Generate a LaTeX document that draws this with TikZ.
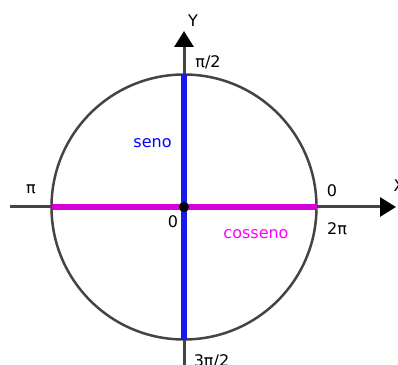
\documentclass[tikz,border=0pt]{standalone}
\usepackage{fontspec}
\setmainfont{DejaVu Sans}
\usepackage{xcolor}
\usetikzlibrary{arrows.meta}
\definecolor{axisgray}{RGB}{68,68,68}
\definecolor{senoblue}{RGB}{25,25,235}
\definecolor{cosmagenta}{RGB}{215,0,215}
\definecolor{senotext}{RGB}{0,0,255}
\definecolor{costext}{RGB}{255,0,255}

\begin{document}
\begin{tikzpicture}[x=1pt, y=1pt,
    lbl/.style={anchor=base, inner sep=0pt, font=\fontsize{16}{19}\selectfont},
    axis/.style={axisgray, line width=3pt, -{Triangle[length=16pt,width=19pt,color=black]}}]
    \useasboundingbox (0,0) rectangle (398,364);

    % points
    \coordinate (O) at (184,157);
    \coordinate (xl) at (10,157);
    \coordinate (xr) at (396,157);
    \coordinate (yt) at (184,333);
    \coordinate (yb) at (184,-4);
    \coordinate (top) at (184,289.5);
    \coordinate (bot) at (184,24.5);
    \coordinate (left) at (51.5,157);
    \coordinate (right) at (316.5,157);

    % axes
    \draw[axis] (xl) -- (xr);
    \draw[axis] (yb) -- (yt);

    % unit circle
    \draw[axisgray, line width=2.5pt] (O) circle (132.5);

    % cosseno and seno
    \draw[cosmagenta, line width=6.5pt] (left) -- (right);
    \draw[senoblue, line width=6.5pt] (bot) -- (top);
    \fill[black] (O) circle (5);

    % labels
    \node[lbl] (ylab) at (193,337) {Y};
    \node[lbl] (xlab) at (399,172) {X};
    \node[lbl] (pi2) at (208,296) {π/2};
    \node[lbl, text=senotext] (seno) at (152.5,216) {seno};
    \node[lbl] (pi) at (31,170) {π};
    \node[lbl] (zr) at (332,167.5) {0};
    \node[lbl] (zo) at (173,136) {0};
    \node[lbl, text=costext] (cos) at (256,126) {cosseno};
    \node[lbl] (twopi) at (337,129) {2π};
    \node[lbl] (pi32) at (211.5,-2.5) {3π/2};
\end{tikzpicture}
\end{document}
